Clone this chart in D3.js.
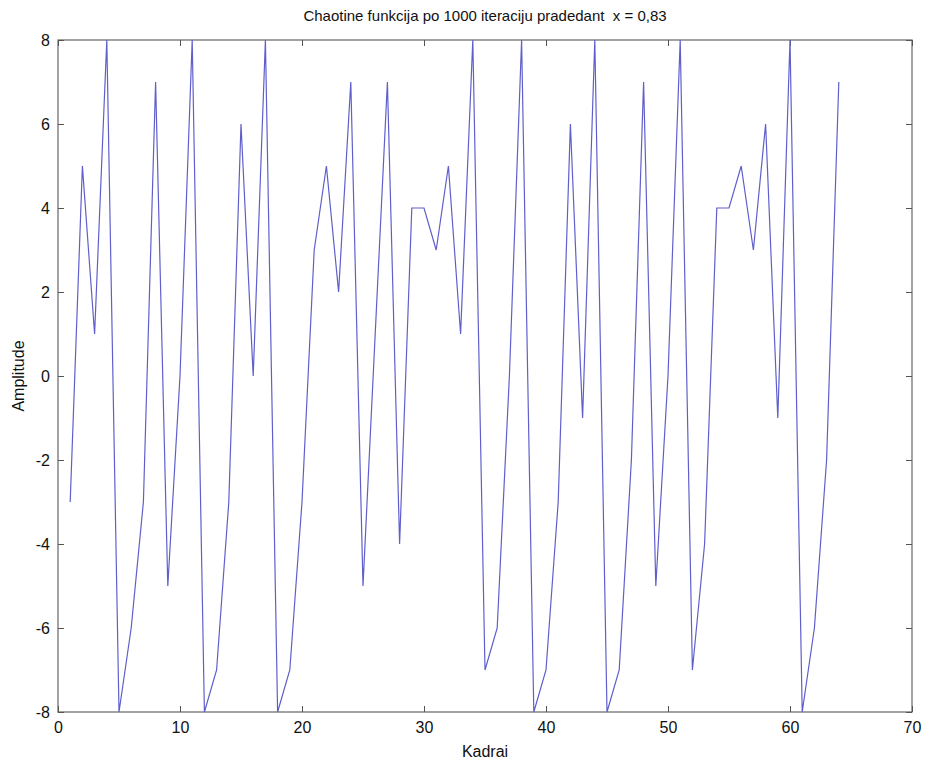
<!DOCTYPE html>
<html>
<head>
<meta charset="utf-8">
<script src="https://cdn.jsdelivr.net/npm/d3@7"></script>
<style>
  body { margin: 0; background: #fff; }
  text { font-family: "Liberation Sans", Arial, sans-serif; fill: #111; }
</style>
</head>
<body>
<div id="chart"></div>
<script>
// frame numbers 1..64 and the amplitude at each
const frames = d3.range(1, 65);
const amplitude = [
  -3, 5, 1, 8, -8, -6, -3, 7, -5, 0,
   8, -8, -7, -3, 6, 0, 8, -8, -7, -3,
   3, 5, 2, 7, -5, 1, 7, -4, 4, 4,
   3, 5, 1, 8, -7, -6, 0, 8, -8, -7,
  -3, 6, -1, 8, -8, -7, -2, 7, -5, 0,
   8, -7, -4, 4, 4, 5, 3, 6, -1, 8,
  -8, -6, -2, 7
];
const xTicks = [0, 10, 20, 30, 40, 50, 60, 70];
const yTicks = [-8, -6, -4, -2, 0, 2, 4, 6, 8];

const W = 927, H = 765;
const margin = {top: 40, right: 15, bottom: 53, left: 58},
  width = W - margin.left - margin.right,
  height = H - margin.top - margin.bottom;

const svg = d3.select("#chart")
  .append("svg")
    .attr("width", W)
    .attr("height", H);

const g = svg.append("g")
    .attr("transform", `translate(${margin.left},${margin.top})`);

const x = d3.scaleLinear().domain([0, 70]).range([0, width]);
const y = d3.scaleLinear().domain([-8, 8]).range([height, 0]);

// box
g.append("rect")
  .attr("width", width)
  .attr("height", height)
  .attr("fill", "#fff")
  .attr("stroke", "#666")
  .attr("stroke-width", 1.2);

// axes with inward ticks (matlab style), plain hyphen for minus
const fmt = d => String(d);
const styleAxis = sel => {
  sel.select(".domain").remove();
  sel.selectAll(".tick line").attr("stroke", "#555");
  sel.selectAll(".tick text")
    .style("font-size", "16px")
    .style("font-family", "'Liberation Sans', Arial, sans-serif")
    .attr("fill", "#111");
};

g.append("g")
  .attr("transform", `translate(0,${height})`)
  .call(d3.axisBottom(x).tickValues(xTicks).tickFormat(fmt).tickSizeInner(-6).tickPadding(10))
  .call(styleAxis);
g.append("g")
  .call(d3.axisTop(x).tickValues(xTicks).tickSizeInner(-6).tickFormat(""))
  .call(styleAxis);
g.append("g")
  .call(d3.axisLeft(y).tickValues(yTicks).tickFormat(fmt).tickSizeInner(-6).tickPadding(8))
  .call(styleAxis);
g.append("g")
  .attr("transform", `translate(${width},0)`)
  .call(d3.axisRight(y).tickValues(yTicks).tickSizeInner(-6).tickFormat(""))
  .call(styleAxis);

// the series
const line = d3.line()
  .x((d, i) => x(frames[i]))
  .y(d => y(d));

g.append("path")
  .datum(amplitude)
  .attr("fill", "none")
  .attr("stroke", "#5f5fcc")
  .attr("stroke-width", 1.2)
  .attr("d", line);

// labels
svg.append("text")
  .attr("x", margin.left + width / 2)
  .attr("y", 21)
  .attr("text-anchor", "middle")
  .style("font-size", "15px")
  .style("white-space", "pre")
  .text("Chaotine funkcija po 1000 iteraciju pradedant  x = 0,83");

svg.append("text")
  .attr("x", margin.left + width / 2)
  .attr("y", H - 8)
  .attr("text-anchor", "middle")
  .style("font-size", "16px")
  .text("Kadrai");

svg.append("text")
  .attr("transform", `translate(24,${margin.top + height / 2}) rotate(-90)`)
  .attr("text-anchor", "middle")
  .style("font-size", "16px")
  .text("Amplitude");
</script>
</body>
</html>
